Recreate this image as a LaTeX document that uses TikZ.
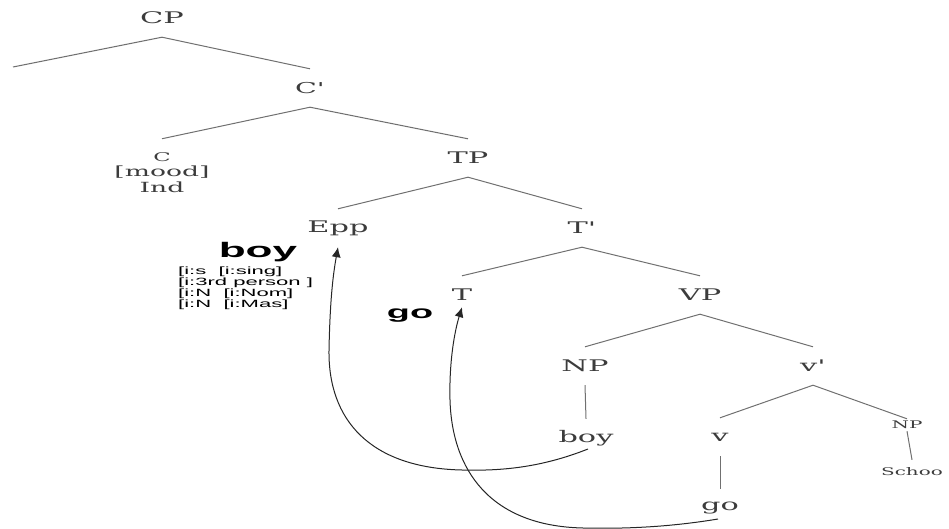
\documentclass[tikz,border=0pt]{standalone}
\usepackage{fontspec}
\usetikzlibrary{calc,arrows.meta}
\newfontfamily\treefont[FakeStretch=1.9]{DejaVu Serif}
\newfontfamily\featfont[FakeStretch=2.1]{Liberation Sans}
\definecolor{treetext}{HTML}{3C3C3C}
\definecolor{treeline}{HTML}{707070}
\tikzset{
  lab/.style={text=treetext, inner sep=0pt, minimum height=38pt,
    font=\treefont\fontsize{16}{18}\selectfont},
  smalllab/.style={lab, minimum height=12pt, font=\treefont\fontsize{10.5}{12}\selectfont},
  branch/.style={draw=treeline, line width=1pt},
  move/.style={draw=black!85, line width=1pt, -{Latex[length=10pt,width=9pt]}},
  bigword/.style={inner sep=0pt, font=\featfont\bfseries\fontsize{21}{24}\selectfont}
}
\begin{document}
\begin{tikzpicture}[x=1pt,y=-1pt]
\useasboundingbox (0,0) rectangle (949,529);
% tree nodes
\node[lab] (CP) at (162,18) {CP};
\coordinate (lf) at (13,67);
\node[lab, font=\treefont\fontsize{15}{16}\selectfont] (Cbar) at (310,88) {C'};
\node[text=treetext, inner xsep=0pt, inner ysep=14pt, align=center,
      font=\treefont\fontsize{14}{16}\selectfont] (Cmood) at (162,173)
  {{\fontsize{12}{13}\selectfont C}\\[-1pt][mood]\\[0pt]Ind};
\node[lab] (TP) at (468,158) {TP};
\node[lab] (Epp) at (338,228) {Epp};
\node[lab] (Tbar) at (582,228) {T'};
\node[lab] (T) at (462,295) {T};
\node[lab] (VP) at (700,295) {VP};
\node[lab] (NP) at (585,366) {NP};
\node[lab] (vbar) at (813,366) {v'};
\node[lab] (boy) at (586,438) {boy};
\node[lab] (v) at (720,437) {v};
\node[lab] (go) at (720,508) {go};
\node[smalllab] (NPs) at (907,425) {NP};
\node[smalllab, minimum height=24pt] (school) at (912,472) {Schoo};
% branches
\draw[branch] (CP.south) -- (lf);
\draw[branch] (CP.south) -- (Cbar.north);
\draw[branch] (Cbar.south) -- (Cmood.north);
\draw[branch] (Cbar.south) -- (TP.north);
\draw[branch] (TP.south) -- (Epp.north);
\draw[branch] (TP.south) -- (Tbar.north);
\draw[branch] (Tbar.south) -- (T.north);
\draw[branch] (Tbar.south) -- (VP.north);
\draw[branch] (VP.south) -- (NP.north);
\draw[branch] (VP.south) -- (vbar.north);
\draw[branch] (NP.south) -- (boy.north);
\draw[branch] (vbar.south) -- (v.north);
\draw[branch] (vbar.south) -- (NPs.north);
\draw[branch] (v.south) -- (go.north);
\draw[branch] (NPs.south) -- (school.north);
% annotations
\node[bigword] (boyb) at (258,252) {boy};
\node[bigword, font=\featfont\bfseries\fontsize{18}{20}\selectfont] (gob) at (410,316) {go};
\node[anchor=north west, inner sep=0pt, align=left,
      font=\featfont\fontsize{10.5}{11}\selectfont] (feat) at (178,267)
  {[i:s\ \ [i:sing]\\{}[i:3rd person ]\\{}[i:N\ \ [i:Nom]\\{}[i:N\ \ [i:Mas]};
% movement arrows
\draw[move] ($(boy.center)+(2,11)$) .. controls (540,468) and (500,471) .. (462,470)
  .. controls (370,468) and (328,420) .. (329,350)
  .. controls (330,300) and (333,275) .. (Epp.south);
\draw[move] ($(go.center)+(-2,11)$) .. controls (670,527) and (625,529) .. (583,528)
  .. controls (490,526) and (452,470) .. (450,400)
  .. controls (449,360) and (455,330) .. ([yshift=7pt]T.south);
\end{tikzpicture}
\end{document}
